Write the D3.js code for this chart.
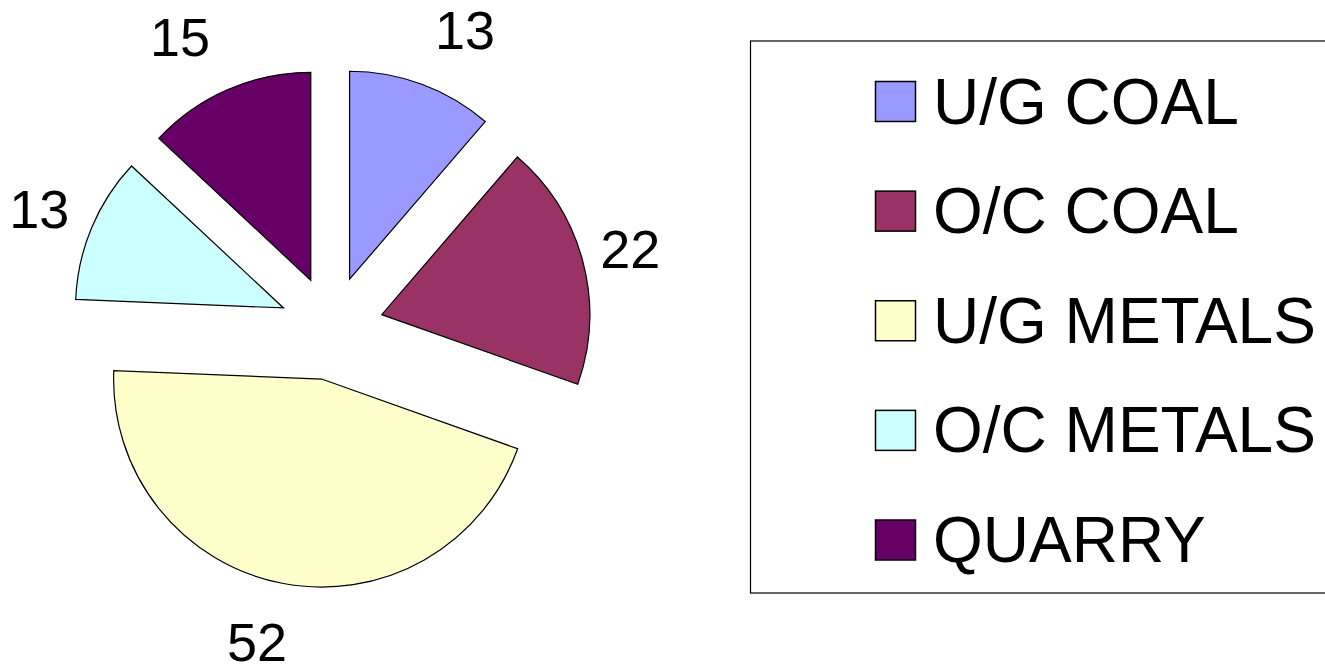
<!DOCTYPE html>
<html>
<head>
<meta charset="utf-8">
<script src="https://cdn.jsdelivr.net/npm/d3@7"></script>
<style>
  html, body { margin: 0; padding: 0; background: #fff; }
  svg { display: block; }
  text { font-family: "Liberation Sans", Arial, sans-serif; fill: #000; }
</style>
</head>
<body>
<svg id="chart" width="1325" height="669"></svg>
<script>
const categories = ["U/G COAL", "O/C COAL", "U/G METALS", "O/C METALS", "QUARRY"];
const values = [13, 22, 52, 13, 15];
const colors = ["#9999FF", "#993366", "#FFFFCC", "#CCFFFF", "#660066"];

const svg = d3.select("#chart");

const cx = 331.5, cy = 328, R = 208, explode = 52;

const data = categories.map((c, i) => ({ name: c, value: values[i], color: colors[i] }));
const pie = d3.pie().value(d => d.value).sort(null).startAngle(0).endAngle(2 * Math.PI);
const arcs = pie(data);
const arc = d3.arc().innerRadius(0).outerRadius(R);

const g = svg.append("g").attr("transform", `translate(${cx},${cy})`);

arcs.forEach(a => {
  const mid = (a.startAngle + a.endAngle) / 2;
  a.dx = Math.sin(mid); a.dy = -Math.cos(mid);
  a.ox = explode * a.dx; a.oy = explode * a.dy;
  // label placement outside the exploded slice (label box keeps clear of the arc)
  const lx = 251 + 92 * a.dy * a.dy;
  const lyr = 268 - 15 * a.dx * a.dx;
  a.lx = a.ox + lx * a.dx;
  a.ly = a.oy + lyr * a.dy;
});

g.selectAll("path.slice").data(arcs).enter().append("path")
  .attr("class", "slice")
  .attr("transform", d => `translate(${d.ox},${d.oy})`)
  .attr("d", arc)
  .attr("fill", d => d.data.color)
  .attr("stroke", "#000")
  .attr("stroke-width", 1.2)
  .attr("stroke-linejoin", "miter");

g.selectAll("text.lbl").data(arcs).enter().append("text")
  .attr("class", "lbl")
  .attr("font-size", 54)
  .attr("text-anchor", "middle")
  .attr("dominant-baseline", "central")
  .attr("x", d => d.lx)
  .attr("y", d => d.ly)
  .text(d => d.data.value);

// legend
const legend = svg.append("g");
legend.append("rect")
  .attr("x", 750.5).attr("y", 41)
  .attr("width", 700).attr("height", 552)
  .attr("fill", "#fff").attr("stroke", "#000").attr("stroke-width", 1.2);

const ly = d3.scalePoint().domain(categories).range([101.5, 540]);

const items = legend.selectAll("g.item").data(data).enter().append("g").attr("class", "item")
  .attr("transform", d => `translate(0,${ly(d.name)})`);
items.append("rect")
  .attr("x", 875.5).attr("y", -20)
  .attr("width", 40).attr("height", 40)
  .attr("fill", d => d.color).attr("stroke", "#000").attr("stroke-width", 1.5);
items.append("text")
  .attr("x", 933).attr("y", 0)
  .attr("font-size", 64)
  .attr("dominant-baseline", "central")
  .text(d => d.name);
</script>
</body>
</html>
